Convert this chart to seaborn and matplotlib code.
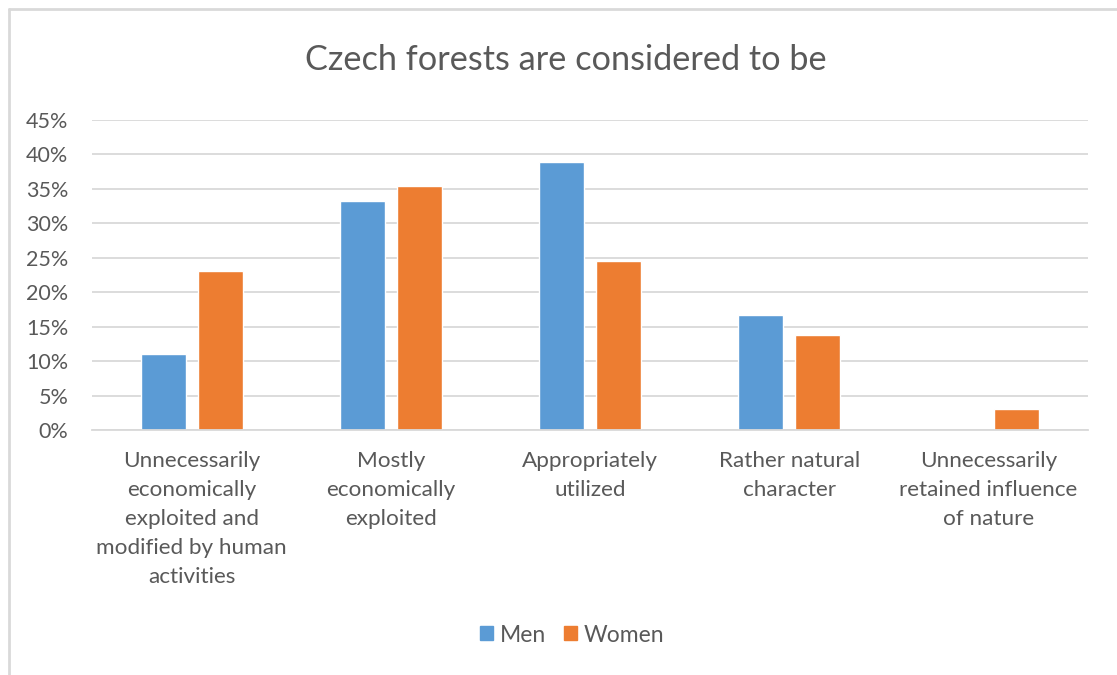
import numpy as np
import pandas as pd
import matplotlib.pyplot as plt
import seaborn as sns
from matplotlib.ticker import PercentFormatter
from matplotlib.lines import Line2D

categories = [
    "Unnecessarily\neconomically\nexploited and\nmodified by human\nactivities",
    "Mostly\neconomically\nexploited",
    "Appropriately\nutilized",
    "Rather natural\ncharacter",
    "Unnecessarily\nretained influence\nof nature",
]
men = [11.1, 33.3, 38.9, 16.7, 0.0]
women = [23.1, 35.4, 24.6, 13.8, 3.1]
groups = ["Men", "Women"]
colors = {"Men": "#5B9BD5", "Women": "#ED7D31"}
yticks = np.arange(0, 46, 5)

df = pd.DataFrame({
    "category": categories * 2,
    "group": ["Men"] * len(men) + ["Women"] * len(women),
    "value": men + women,
})

sns.set_theme(style="white")
plt.rcParams["font.family"] = ["Lato", "DejaVu Sans"]
text_color = "#595959"

fig = plt.figure(figsize=(11.17, 6.75), dpi=100)
ax = fig.add_axes([92 / 1117, 245 / 675, 996 / 1117, 310 / 675])

sns.barplot(data=df, x="category", y="value", hue="group", hue_order=groups,
            palette=colors, width=0.572, gap=0.21, saturation=1,
            order=categories, ax=ax, legend=False)

ax.set_ylim(0, 45)
ax.set_yticks(yticks)
ax.yaxis.set_major_formatter(PercentFormatter(decimals=0))
ax.set_xticks(range(len(categories)), categories, linespacing=1.57)
ax.grid(axis="y", color="#D9D9D9", linewidth=1.3)
ax.set_axisbelow(True)
for s in ["top", "right", "left"]:
    ax.spines[s].set_visible(False)
ax.spines["bottom"].set_color("#D9D9D9")
ax.spines["bottom"].set_linewidth(1.3)
ax.tick_params(axis="y", length=0, labelsize=15.5, labelcolor=text_color, pad=17)
ax.tick_params(axis="x", length=0, labelsize=16.2, labelcolor=text_color, pad=15)
ax.set_xlabel("")
ax.set_ylabel("")

fig.text(566 / 1117, 1 - 60 / 675, "Czech forests are considered to be",
         ha="center", va="center", fontsize=24.7, color=text_color)

handles = [plt.Rectangle((0, 0), 1, 1, color=colors[g]) for g in groups]
fig.legend(handles, groups, loc="center", bbox_to_anchor=(572 / 1117, 1 - 635 / 675),
           ncol=2, frameon=False, fontsize=16.5, labelcolor=text_color,
           handlelength=0.55, handleheight=0.55, handletextpad=0.3, columnspacing=0.8)

# chart border (partially visible in the reference)
fig.add_artist(Line2D([9 / 1117, 9 / 1117], [0, 1 - 9 / 675], transform=fig.transFigure,
                      color="#D9D9D9", linewidth=2))
fig.add_artist(Line2D([9 / 1117, 1], [1 - 9 / 675, 1 - 9 / 675], transform=fig.transFigure,
                      color="#D9D9D9", linewidth=2))

fig.savefig("out.png", dpi=100)
